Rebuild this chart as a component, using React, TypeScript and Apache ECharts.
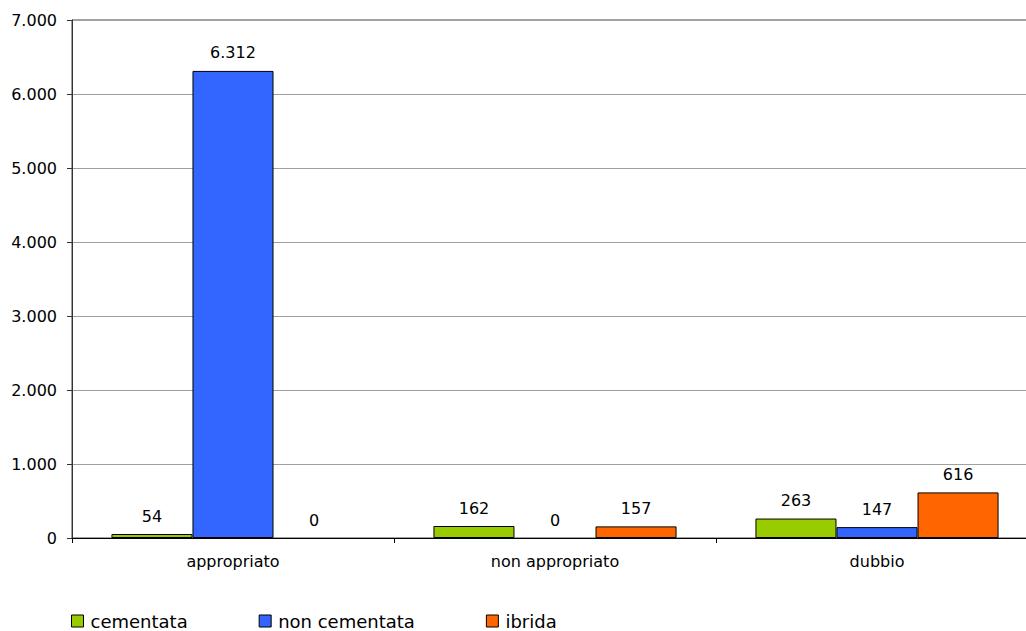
import React, { useEffect, useRef } from "react";
import * as echarts from "echarts";

// Categories and series values
const categories = ["appropriato", "non appropriato", "dubbio"];
const seriesNames = ["cementata", "non cementata", "ibrida"];
const cementata = [54, 162, 263];
const nonCementata = [6312, 0, 147];
const ibrida = [0, 157, 616];
const seriesColors = ["#99CC00", "#3366FF", "#FF6600"];

const FONT = "'DejaVu Sans', Verdana, sans-serif";

// Italian thousands separator
const fmt = (v: number) => String(Math.round(v)).replace(/\B(?=(\d{3})+(?!\d))/g, ".");

// The plot runs a little past the right edge of the visible frame
const CHART_W = 1040;

export default function App() {
  const ref = useRef<HTMLDivElement>(null);

  useEffect(() => {
    if (!ref.current) return;
    const chart = echarts.init(ref.current, undefined, { renderer: "svg" });
    const values = [cementata, nonCementata, ibrida];

    chart.setOption({
      animation: false,
      backgroundColor: "#ffffff",
      textStyle: { fontFamily: FONT },
      grid: {
        left: 72,
        right: CHART_W - 1038,
        top: 20,
        bottom: 93,
        show: true,
        borderColor: "#444",
        borderWidth: 1,
        backgroundColor: "transparent",
      },
      legend: {
        left: 66,
        top: 607,
        icon: "rect",
        itemWidth: 12,
        itemHeight: 12,
        itemGap: 71,
        itemStyle: { borderColor: "#000", borderWidth: 1 },
        textStyle: { fontFamily: FONT, fontSize: 18, color: "#000", padding: [0, 0, 0, 2] },
        data: seriesNames,
      },
      xAxis: {
        type: "category",
        data: categories,
        axisLine: { lineStyle: { color: "#000", width: 1 } },
        axisTick: { show: true, length: 5, lineStyle: { color: "#000" } },
        axisLabel: { fontFamily: FONT, fontSize: 16, color: "#000", margin: 15 },
      },
      yAxis: {
        type: "value",
        min: 0,
        max: 7000,
        interval: 1000,
        axisLine: { show: true, lineStyle: { color: "#333", width: 1 } },
        axisTick: { show: true, length: 5, lineStyle: { color: "#333" } },
        axisLabel: {
          fontFamily: FONT,
          fontSize: 16,
          color: "#000",
          margin: 15,
          formatter: (v: number) => fmt(v),
        },
        splitLine: { show: true, lineStyle: { color: "#a0a0a0", width: 1 } },
      },
      series: seriesNames.map((name, i) => ({
        name,
        type: "bar",
        // zero-height bars get no outline
        data: values[i].map((v) => (v === 0 ? { value: v, itemStyle: { borderWidth: 0 } } : v)),
        barGap: "0%",
        barCategoryGap: "24.5%",
        itemStyle: { color: seriesColors[i], borderColor: "#000", borderWidth: 1 },
        label: {
          show: true,
          position: "top",
          distance: 10,
          fontFamily: FONT,
          fontSize: 16,
          color: "#000",
          formatter: (p: any) => fmt(p.value),
        },
      })),
    });

    return () => chart.dispose();
  }, []);

  return (
    <div style={{ position: "absolute", left: 0, top: 0, width: 1026, height: 631, overflow: "hidden" }}>
      <div ref={ref} style={{ width: CHART_W, height: 631 }} />
    </div>
  );
}
